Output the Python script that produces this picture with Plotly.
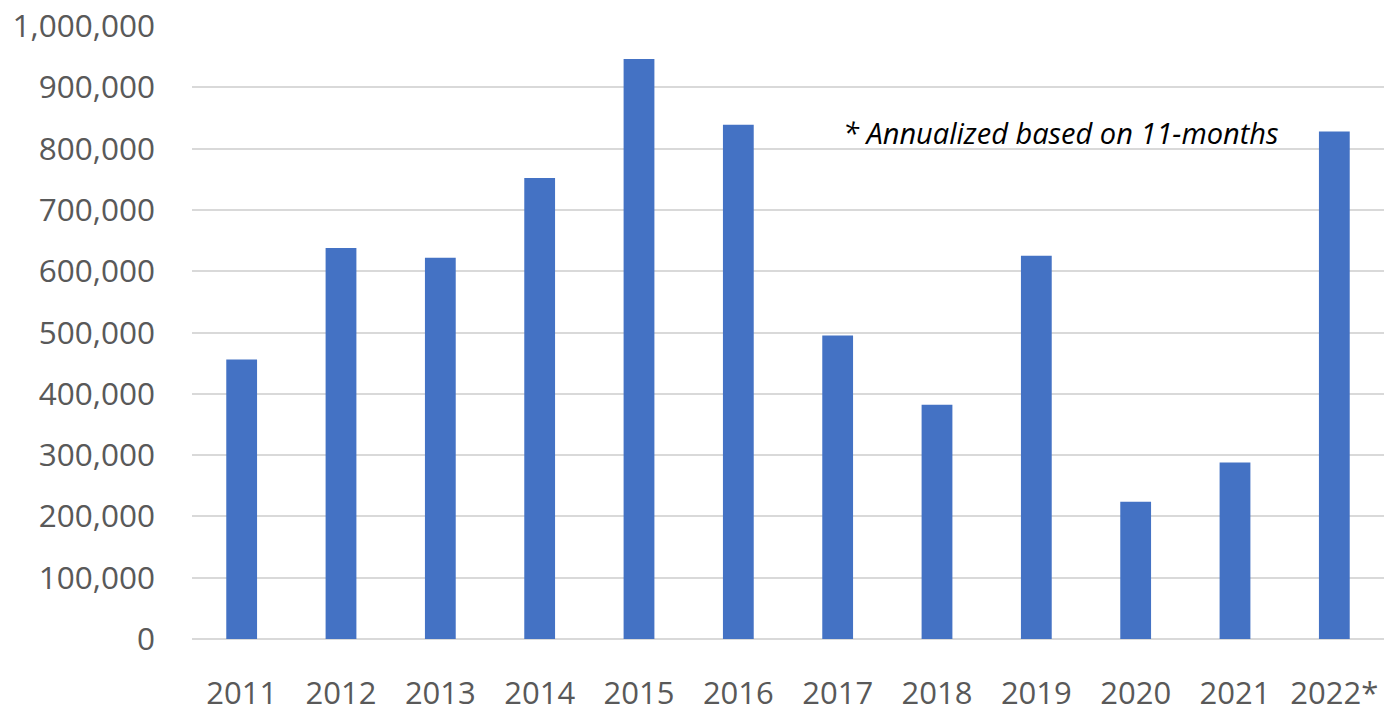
import plotly.graph_objects as go

years = ["2011", "2012", "2013", "2014", "2015", "2016", "2017", "2018", "2019", "2020", "2021", "2022*"]
values = [456000, 638000, 622000, 752000, 946000, 839000, 495000, 382000, 625000, 224000, 288000, 828000]
y_ticks = [0, 100000, 200000, 300000, 400000, 500000, 600000, 700000, 800000, 900000, 1000000]
y_tick_labels = ["0", "100,000", "200,000", "300,000", "400,000", "500,000", "600,000",
                 "700,000", "800,000", "900,000", "1,000,000"]
note_text = "* Annualized based on 11-months"

fig = go.Figure(go.Bar(x=years, y=values, marker=dict(color="#4472C4", line=dict(width=0))))

fig.update_layout(
    width=1390, height=713,
    margin=dict(l=192, r=6, t=26, b=74),
    paper_bgcolor="white", plot_bgcolor="white",
    bargap=0.69,
    showlegend=False,
    font=dict(family="Open Sans", color="#595959", size=31.5),
    annotations=[dict(
        text=note_text, xref="paper", yref="y", x=0.729, y=826000,
        showarrow=False, xanchor="center", yanchor="middle",
        font=dict(family="Open Sans", size=29, color="#000000", style="italic"),
    )],
)
fig.update_xaxes(showgrid=False, showline=False, ticks="", ticklabelstandoff=33,
                 automargin=False, tickfont=dict(size=31, color="#595959"))
fig.update_yaxes(range=[0, 1000000], tickvals=y_ticks, ticktext=y_tick_labels,
                 showgrid=True, gridcolor="#d9d9d9", gridwidth=2,
                 zeroline=True, zerolinecolor="#d9d9d9", zerolinewidth=2,
                 ticks="", ticklabelstandoff=36, showline=False, automargin=False,
                 tickfont=dict(size=31.5, color="#595959"))

fig.write_html("out.html")
